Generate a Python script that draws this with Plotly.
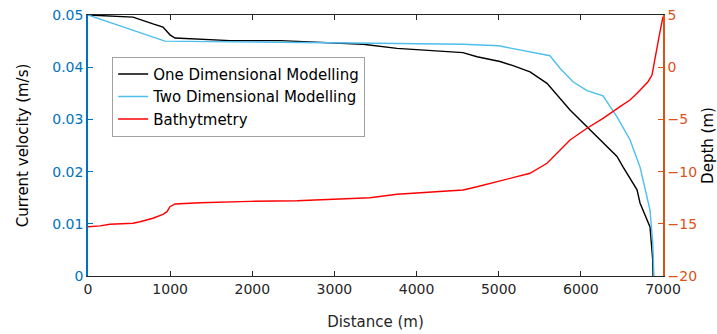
import plotly.graph_objects as go

# One dimensional modelling (black)
x1 = [0, 548, 791, 913, 998, 1059, 1729, 2337, 3348, 3762, 4565, 4736, 5016, 5174, 5381,
      5588, 5868, 6075, 6440, 6513, 6562, 6684, 6720, 6757, 6842, 6875, 6879]
v1 = [0.05, 0.0496, 0.0483, 0.0477, 0.0462, 0.0456, 0.0451, 0.0451, 0.0444, 0.0436, 0.0428,
      0.0420, 0.0411, 0.0403, 0.0391, 0.0369, 0.0318, 0.0286, 0.0229, 0.0209, 0.0197, 0.0165,
      0.0140, 0.0126, 0.0094, 0.0031, 0.0]

# Two dimensional modelling (light blue)
x2 = [0, 937, 1485, 2500, 3500, 4565, 5000, 5624, 5746, 5904, 6075, 6270, 6440, 6598, 6720,
      6842, 6875, 6890]
v2 = [0.05, 0.045, 0.0449, 0.0448, 0.0446, 0.0444, 0.0441, 0.0422, 0.0398, 0.0372, 0.0355,
      0.0345, 0.0305, 0.0261, 0.0209, 0.0126, 0.0063, 0.0]

# Bathymetry (red)
xb = [0, 146, 268, 548, 633, 791, 913, 962, 998, 1059, 1363, 1765, 1972, 2544, 3433, 3762,
      4565, 4736, 5052, 5381, 5588, 5868, 6075, 6270, 6477, 6598, 6684, 6744, 6818, 6866,
      6903, 6952, 7000]
db = [-15.28, -15.2, -15.05, -14.95, -14.8, -14.47, -14.1, -13.84, -13.36, -13.1, -12.98,
      -12.85, -12.85, -12.79, -12.5, -12.17, -11.76, -11.45, -10.8, -10.16, -9.2, -6.97,
      -5.85, -4.9, -3.78, -3.14, -2.5, -2.02, -1.39, -0.75, 0.69, 2.92, 4.84]

x_ticks = [0, 1000, 2000, 3000, 4000, 5000, 6000, 7000]
v_ticks = [0, 0.01, 0.02, 0.03, 0.04, 0.05]
v_labels = ["0", "0.01", "0.02", "0.03", "0.04", "0.05"]
d_ticks = [-20, -15, -10, -5, 0, 5]

BLUE_AX = "#0072BD"
ORANGE_AX = "#D95319"
DARK = "#262626"
FONT = "DejaVu Sans, Arial, sans-serif"

fig = go.Figure()
fig.add_trace(go.Scatter(x=x1, y=v1, mode="lines", name="One Dimensional Modelling",
                         line=dict(color="black", width=1.4)))
fig.add_trace(go.Scatter(x=x2, y=v2, mode="lines", name="Two Dimensional Modelling",
                         line=dict(color="#4DBEEE", width=1.4)))
fig.add_trace(go.Scatter(x=xb, y=db, mode="lines", name="Bathytmetry", yaxis="y2",
                         line=dict(color="#FF0000", width=1.4)))

fig.update_layout(
    width=717, height=334,
    margin=dict(l=88, r=54, t=15, b=58, autoexpand=False),
    plot_bgcolor="white", paper_bgcolor="white",
    font=dict(family=FONT, size=14, color=DARK),
    showlegend=True,
    legend=dict(x=0.042, y=0.84, xanchor="left", yanchor="top",
                bgcolor="white", bordercolor="#A0A0A0", borderwidth=1,
                font=dict(size=15, color="black"), tracegroupgap=0,
                itemwidth=30),
    xaxis=dict(range=[0, 7000], tickvals=x_ticks, showgrid=False, zeroline=False,
               automargin=False,
               showline=True, linecolor=DARK, linewidth=1, mirror="ticks",
               ticks="inside", ticklen=5, tickcolor=DARK,
               tickfont=dict(size=14, color=DARK),
               title=dict(text="Distance (m)", font=dict(size=15, color=DARK), standoff=20)),
    yaxis=dict(range=[0, 0.05], tickvals=v_ticks, ticktext=v_labels,
               showgrid=False, zeroline=False, automargin=False,
               showline=True, linecolor=BLUE_AX, linewidth=1.5,
               ticks="inside", ticklen=5, tickcolor=BLUE_AX,
               tickfont=dict(size=14, color=BLUE_AX),
               title=dict(text="Current velocity (m/s)", font=dict(size=15, color="black"), standoff=20)),
    yaxis2=dict(range=[-20, 5], tickvals=d_ticks, overlaying="y", side="right",
                showgrid=False, zeroline=False, automargin=False,
                showline=True, linecolor=ORANGE_AX, linewidth=1.5,
                ticks="inside", ticklen=5, tickcolor=ORANGE_AX,
                tickfont=dict(size=14, color=ORANGE_AX),
                title=dict(text="Depth (m)", font=dict(size=15, color="black"), standoff=12)),
)

fig.write_html("out.html")
